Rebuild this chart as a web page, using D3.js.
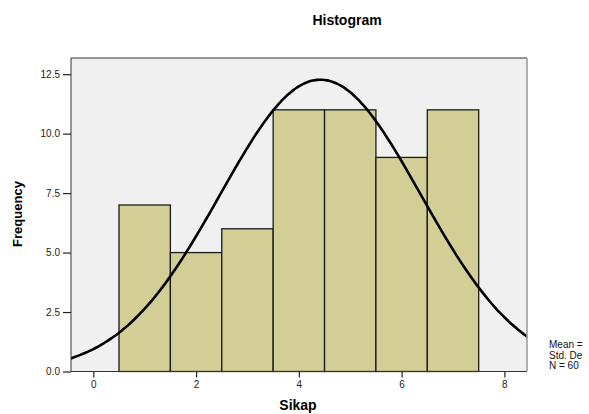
<!DOCTYPE html>
<html>
<head>
<meta charset="utf-8">
<script src="https://cdn.jsdelivr.net/npm/d3@7"></script>
<style>
  body { margin: 0; background: #fff; }
  text { font-family: "Liberation Sans", Arial, sans-serif; }
</style>
</head>
<body>
<script>
// histogram data: bin centres and counts
var binCenters = [1, 2, 3, 4, 5, 6, 7];
var counts = [7, 5, 6, 11, 11, 9, 11];
var xTicks = [0, 2, 4, 6, 8];
var yTicks = [0, 2.5, 5, 7.5, 10, 12.5];
// legend text as it shows (cut by the chart frame in the source)
var legendLines = ["Mean =", "Std. De", "N = 60"];

// normal curve parameters
var mean = 4.42, stdDev = 1.951, n = 60, binWidth = 1;

var width = 589, height = 414;
var plot = { left: 71, top: 58, right: 527, bottom: 371.5 };

var svg = d3.select("body").append("svg")
  .attr("width", width)
  .attr("height", height);

var x = d3.scaleLinear().domain([-0.434, 8.44]).range([plot.left, plot.right]);
var y = d3.scaleLinear().domain([0, 13.18]).range([plot.bottom, plot.top]);

svg.append("defs").append("clipPath").attr("id", "plotclip")
  .append("rect")
  .attr("x", plot.left).attr("y", plot.top)
  .attr("width", plot.right - plot.left).attr("height", plot.bottom - plot.top);

// plot background
svg.append("rect")
  .attr("x", plot.left).attr("y", plot.top)
  .attr("width", plot.right - plot.left).attr("height", plot.bottom - plot.top)
  .attr("fill", "#f0f0f0");

// bars
svg.append("g").selectAll("rect")
  .data(binCenters)
  .join("rect")
  .attr("x", (d) => x(d - binWidth / 2))
  .attr("y", (d, i) => y(counts[i]))
  .attr("width", (d) => x(d + binWidth / 2) - x(d - binWidth / 2))
  .attr("height", (d, i) => y(0) - y(counts[i]))
  .attr("fill", "#d3ce96")
  .attr("stroke", "#1a1a1a")
  .attr("stroke-width", 1.3);

// normal curve
var pts = d3.range(-0.45, 8.46, 0.05);
var line = d3.line()
  .x((d) => x(d))
  .y((d) => y(n * binWidth / (stdDev * Math.sqrt(2 * Math.PI)) *
    Math.exp(-0.5 * Math.pow((d - mean) / stdDev, 2))))
  .curve(d3.curveBasis);
svg.append("path")
  .datum(pts)
  .attr("d", line)
  .attr("clip-path", "url(#plotclip)")
  .attr("fill", "none")
  .attr("stroke", "#000")
  .attr("stroke-width", 2.6);

// frame: dark top/left/bottom, lighter right
svg.append("path")
  .attr("d", `M${plot.right},${plot.top}H${plot.left}V${plot.bottom}H${plot.right}`)
  .attr("fill", "none")
  .attr("stroke", "#333")
  .attr("stroke-width", 1);
svg.append("line")
  .attr("x1", plot.right).attr("x2", plot.right)
  .attr("y1", plot.top).attr("y2", plot.bottom)
  .attr("stroke", "#999")
  .attr("stroke-width", 1.5);

// axes
var xAxis = d3.axisBottom(x).tickValues(xTicks).tickSize(6).tickPadding(3)
  .tickFormat(d3.format("d"));
var xg = svg.append("g").attr("transform", `translate(0,${plot.bottom})`).call(xAxis);
var yAxis = d3.axisLeft(y).tickValues(yTicks).tickSize(8).tickPadding(3)
  .tickFormat(d3.format(".1f"));
var yg = svg.append("g").attr("transform", `translate(${plot.left},0)`).call(yAxis);
[xg, yg].forEach(function (g) {
  g.select(".domain").remove();
  g.selectAll(".tick line").attr("stroke", "#222").attr("stroke-width", 1.2);
  g.selectAll(".tick text")
    .attr("fill", "#222")
    .style("font-family", "'Liberation Sans', Arial, sans-serif")
    .style("font-size", "10px");
});

// titles
svg.append("text")
  .attr("x", 347).attr("y", 25)
  .attr("text-anchor", "middle")
  .style("font-weight", "bold").style("font-size", "14px")
  .text("Histogram");

svg.append("text")
  .attr("x", 298).attr("y", 410)
  .attr("text-anchor", "middle")
  .style("font-weight", "bold").style("font-size", "14px")
  .text("Sikap");

svg.append("text")
  .attr("transform", "translate(22,214) rotate(-90)")
  .attr("text-anchor", "middle")
  .style("font-weight", "bold").style("font-size", "13px")
  .text("Frequency");

// legend
svg.append("g")
  .selectAll("text")
  .data(legendLines)
  .join("text")
  .attr("x", 549)
  .attr("y", (d, i) => 348 + i * 10.5)
  .style("font-size", "10px")
  .attr("fill", "#111")
  .text((d) => d);
</script>
</body>
</html>
